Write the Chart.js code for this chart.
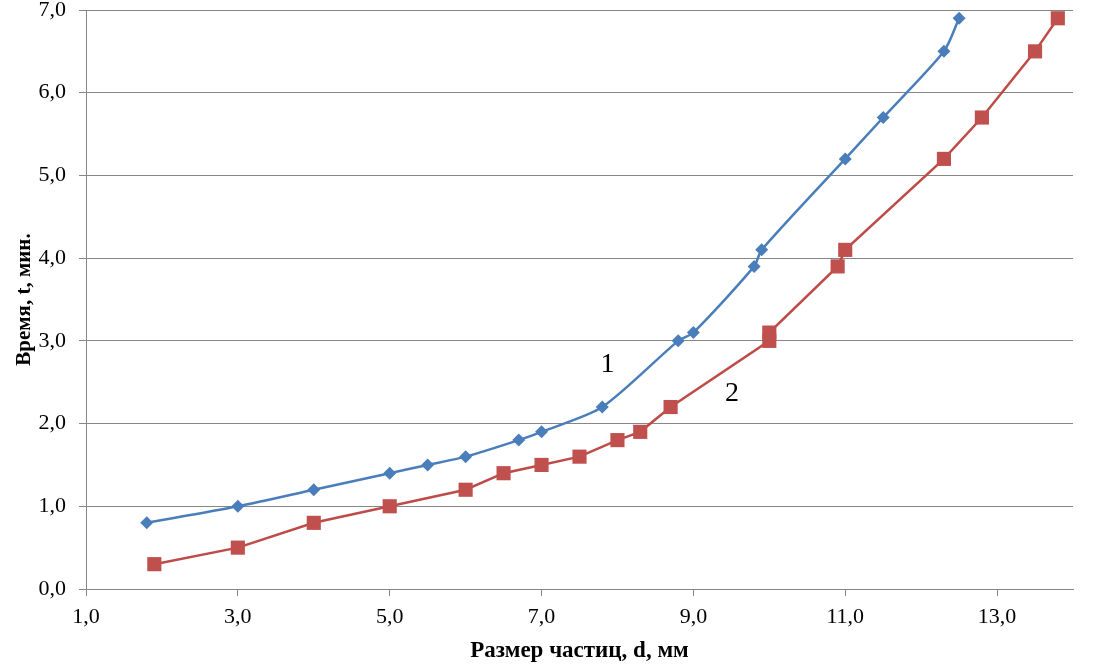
<!DOCTYPE html>
<html>
<head>
<meta charset="utf-8">
<script src="https://cdn.jsdelivr.net/npm/chart.js@4.4.1/dist/chart.umd.min.js"></script>
<style>
  html, body { margin: 0; padding: 0; background: #fff; }
  #wrap { width: 1097px; height: 665px; position: relative; }
</style>
</head>
<body>
<div id="wrap"><canvas id="mainChart"></canvas></div>
<script>
// кривая 1 (синяя)
const d1 = [1.8, 3.0, 4.0, 5.0, 5.5, 6.0, 6.7, 7.0, 7.8, 8.8, 9.0, 9.8, 9.9, 11.0, 11.5, 12.3, 12.5];
const t1 = [0.8, 1.0, 1.2, 1.4, 1.5, 1.6, 1.8, 1.9, 2.2, 3.0, 3.1, 3.9, 4.1, 5.2, 5.7, 6.5, 6.9];
// кривая 2 (красная)
const d2 = [1.9, 3.0, 4.0, 5.0, 6.0, 6.5, 7.0, 7.5, 8.0, 8.3, 8.7, 10.0, 10.0, 10.9, 11.0, 12.3, 12.8, 13.5, 13.8];
const t2 = [0.3, 0.5, 0.8, 1.0, 1.2, 1.4, 1.5, 1.6, 1.8, 1.9, 2.2, 3.0, 3.1, 3.9, 4.1, 5.2, 5.7, 6.5, 6.9];

const xTicks = [1, 3, 5, 7, 9, 11, 13];
const yTicks = [0, 1, 2, 3, 4, 5, 6, 7];

// подписи кривых
const curveLabels = ['1', '2'];
const curveLabelX = [7.87, 9.51];
const curveLabelY = [2.71, 2.36];

const toPts = (xs, ys) => xs.map((x, i) => ({ x: x, y: ys[i] }));
const fmt = v => Number(v).toFixed(1).replace('.', ',');

const SERIF = '"Liberation Serif", "Times New Roman", serif';

const curveLabelPlugin = {
    id: 'curveLabels',
    afterDatasetsDraw(chart) {
        const ctx = chart.ctx;
        const xs = chart.scales.x, ys = chart.scales.y;
        ctx.save();
        ctx.font = '28px ' + SERIF;
        ctx.fillStyle = '#000';
        ctx.textAlign = 'center';
        ctx.textBaseline = 'middle';
        curveLabels.forEach((txt, i) => {
            ctx.fillText(txt, xs.getPixelForValue(curveLabelX[i]), ys.getPixelForValue(curveLabelY[i]));
        });
        ctx.restore();
    }
};

const ctx = document.getElementById('mainChart').getContext('2d');
new Chart(ctx, {
    type: 'line',
    data: {
        datasets: [{
            label: '1',
            data: toPts(d1, t1),
            borderColor: '#4a7ebb',
            backgroundColor: '#4a7ebb',
            borderWidth: 2.5,
            pointStyle: 'rectRot',
            pointRadius: 6.5,
            pointBorderWidth: 0,
            tension: 0.25
        }, {
            label: '2',
            data: toPts(d2, t2),
            borderColor: '#be4b48',
            backgroundColor: '#c0504d',
            borderWidth: 2.5,
            pointStyle: 'rect',
            pointRadius: 10,
            pointBorderWidth: 0,
            tension: 0
        }]
    },
    options: {
        responsive: true,
        maintainAspectRatio: false,
        animation: false,
        layout: { padding: { top: 10, right: 24, left: 0, bottom: 0 } },
        plugins: { legend: { display: false }, tooltip: { enabled: false } },
        scales: {
            x: {
                type: 'linear',
                min: 1,
                max: 14,
                afterFit(scale) {
                    scale.height = 76;
                    scale.paddingLeft = 0; scale.paddingRight = 0;
                },
                afterBuildTicks(scale) { scale.ticks = xTicks.map(v => ({ value: v })); },
                ticks: {
                    callback: v => fmt(v),
                    color: '#000',
                    font: { family: SERIF, size: 22 },
                    padding: 8,
                    maxRotation: 0
                },
                grid: { drawOnChartArea: false, drawTicks: true, tickLength: 7, color: '#868686' },
                border: { color: '#868686', width: 1 },
                title: {
                    display: true,
                    text: 'Размер частиц, d, мм',
                    color: '#000',
                    font: { family: SERIF, size: 23, weight: 'bold' },
                    padding: { top: 2, bottom: 0 }
                }
            },
            y: {
                min: 0,
                max: 7,
                afterFit(scale) {
                    scale.width = 86;
                    scale.paddingTop = 0; scale.paddingBottom = 0;
                },
                afterBuildTicks(scale) { scale.ticks = yTicks.map(v => ({ value: v })); },
                ticks: {
                    callback: v => fmt(v),
                    color: '#000',
                    font: { family: SERIF, size: 22 },
                    padding: 13
                },
                grid: { color: '#868686', tickLength: 7 },
                border: { color: '#868686', width: 1 },
                title: {
                    display: true,
                    text: 'Время, t, мин.',
                    color: '#000',
                    font: { family: SERIF, size: 21, weight: 'bold' },
                    padding: { top: 12, bottom: 4 }
                }
            }
        }
    },
    plugins: [curveLabelPlugin]
});
</script>
</body>
</html>
